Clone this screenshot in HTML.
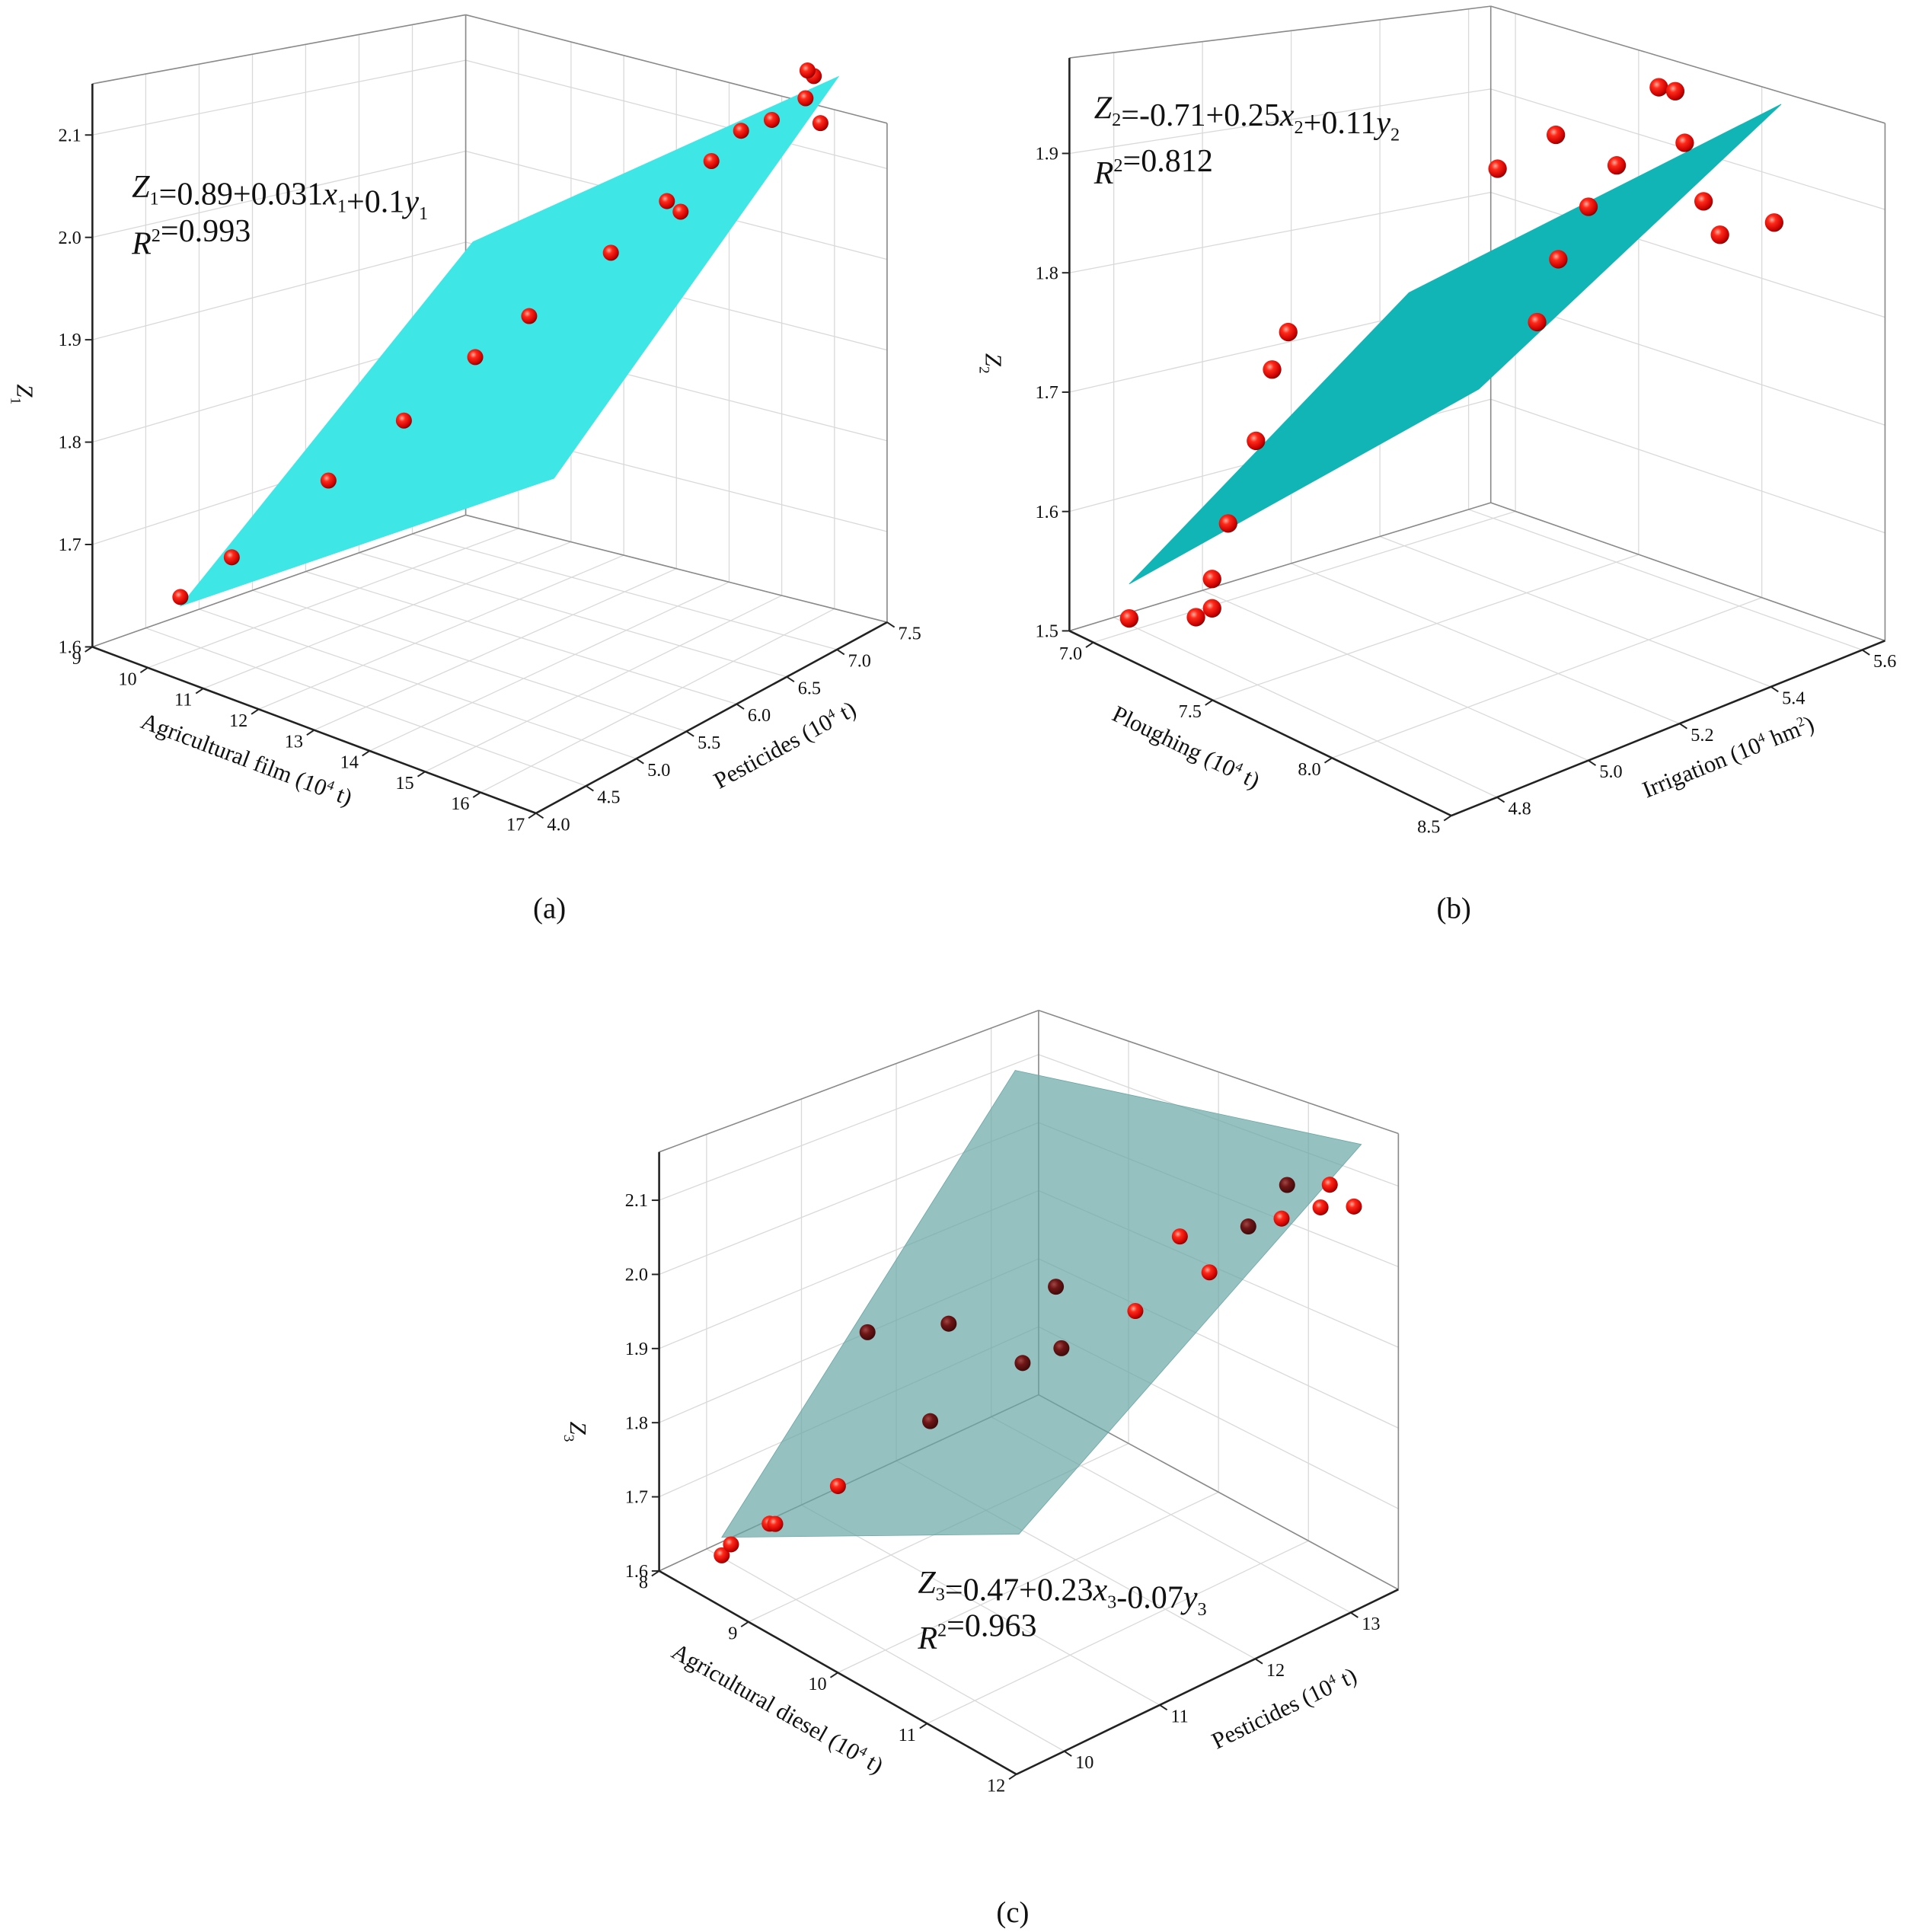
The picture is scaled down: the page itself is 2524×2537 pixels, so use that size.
<!DOCTYPE html>
<html><head><meta charset="utf-8"><style>
html,body{margin:0;padding:0;background:#fff}
svg{display:block}
text{font-family:"Liberation Serif",serif;fill:#111}
</style></head><body>
<svg id="fig" xmlns="http://www.w3.org/2000/svg" width="2524" height="2537" viewBox="0 0 1560 1568">
<defs>
<radialGradient id="ball" cx="0.38" cy="0.35" r="0.7"><stop offset="0" stop-color="#ffb0a0"/><stop offset="0.3" stop-color="#ff2a1a"/><stop offset="0.8" stop-color="#c80000"/><stop offset="1" stop-color="#700000"/></radialGradient>
<radialGradient id="ballDark" cx="0.38" cy="0.35" r="0.7"><stop offset="0" stop-color="#a04848"/><stop offset="0.4" stop-color="#6e1616"/><stop offset="1" stop-color="#3a0808"/></radialGradient>
</defs>
<g id="panel-a"></g>
<g id="panel-b"></g>
<g id="panel-c"></g>
<text x="446" y="745" font-size="24" text-anchor="middle">(a)</text>
<text x="1180" y="745" font-size="24" text-anchor="middle">(b)</text>
<text x="822" y="1560" font-size="24" text-anchor="middle">(c)</text>
</svg>
<script>
// ---- Panel (a) data ----
const aXTicks=[9,10,11,12,13,14,15,16,17];
const aYTicks=[4.0,4.5,5.0,5.5,6.0,6.5,7.0,7.5];
const aZTicks=[1.6,1.7,1.8,1.9,2.0,2.1];
const aX=[9.86,10.37,11.33,12.08,12.80,13.34,14.17,14.74,14.88,15.19,15.50,15.81,16.16,16.24,16.18,16.31];
const aY=[4.38,4.60,5.02,5.35,5.66,5.90,6.26,6.51,6.57,6.71,6.84,6.98,7.13,7.17,7.14,7.20];
const aZ=[1.652,1.693,1.772,1.834,1.900,1.943,2.010,2.065,2.054,2.108,2.141,2.153,2.177,2.201,2.207,2.150];
const aPlaneX=[9.86,12.78,16.5,13.59];
const aPlaneY=[4.38,5.65,7.28,6.01];
const aPlaneZ=[1.643,2.018,2.201,1.775];
// ---- Panel (b) data ----
const bXTicks=[7.0,7.5,8.0,8.5];
const bYTicks=[4.8,5.0,5.2,5.4,5.6];
const bZTicks=[1.5,1.6,1.7,1.8,1.9];
const bX=[7.02,7.15,7.18,7.18,7.21,7.27,7.30,7.33,7.75,7.86,7.92,7.98,7.87,7.82,8.06,8.09,8.11,8.15,8.18,8.29];
const bY=[4.77,4.85,4.87,4.87,4.89,4.92,4.94,4.96,5.20,5.27,5.31,5.34,5.27,5.25,5.39,5.41,5.42,5.44,5.46,5.52];
const bZ=[1.514,1.518,1.526,1.551,1.599,1.672,1.734,1.767,1.924,1.957,1.894,1.933,1.847,1.789,2.005,2.002,1.956,1.904,1.874,1.887];
const bPlaneX=[7.02,7.57,8.30,7.71];
const bPlaneY=[4.77,5.10,5.53,5.18];
const bPlaneZ=[1.543,1.809,1.995,1.728];
// ---- Panel (c) data ----
const cXTicks=[8,9,10,11,12];
const cYTicks=[10,11,12,13];
const cZTicks=[1.6,1.7,1.8,1.9,2.0,2.1];
const cX=[8.34,8.39,8.60,8.63,8.97,9.47,9.13,9.57,9.97,10.15,10.18,10.58,10.82,10.98,11.19,11.37,11.40,11.58,11.63,11.76];
const cY=[9.84,9.89,10.10,10.13,10.47,10.97,10.63,11.07,11.47,11.65,11.68,12.08,12.32,12.48,12.69,12.87,12.90,13.08,13.13,13.26];
const cZ=[1.624,1.639,1.668,1.668,1.720,1.807,1.923,1.934,1.883,1.981,1.902,1.949,2.043,1.997,2.054,2.063,2.105,2.076,2.104,2.076];
const cOcc=[0,0,0,0,0,1,1,1,1,1,1,0,0,0,1,0,1,0,0,0];
const cPlaneX=[8.34,9.93,11.8,9.95];
const cPlaneY=[9.84,11.43,13.3,11.45];
const cPlaneZ=[1.648,2.261,2.153,1.662];

const NS='http://www.w3.org/2000/svg';
function mk(parent,tag,attrs){const e=document.createElementNS(NS,tag);for(const k in attrs)e.setAttribute(k,attrs[k]);parent.appendChild(e);return e;}
function makeProj(c){
  return function(x,y,z){
    const u=(x-c.xr[0])/(c.xr[1]-c.xr[0]),v=(y-c.yr[0])/(c.yr[1]-c.yr[0]),t=(z-c.zr[0])/(c.zr[1]-c.zr[0]);
    const w=[(1-u)*(1-v),u*(1-v),u*v,(1-u)*v];
    const f=[c.fl.L,c.fl.F,c.fl.R,c.fl.B],tp=[c.tp.L,c.tp.F,c.tp.R,c.tp.B];
    let fx=0,fy=0,tx=0,ty=0;
    for(let i=0;i<4;i++){fx+=w[i]*f[i][0];fy+=w[i]*f[i][1];tx+=w[i]*tp[i][0];ty+=w[i]*tp[i][1];}
    return [fx+t*(tx-fx),fy+t*(ty-fy)];
  };
}
function seg(g,P,a,b,stroke,sw,name){
  const pts=[];for(let i=0;i<=8;i++){const s=i/8;const p=P(a[0]+(b[0]-a[0])*s,a[1]+(b[1]-a[1])*s,a[2]+(b[2]-a[2])*s);pts.push(p[0].toFixed(1)+','+p[1].toFixed(1));}
  const e=mk(g,'polyline',{points:pts.join(' '),fill:'none',stroke:stroke,'stroke-width':sw});
  
  
  return e;
}
function fmt(v,d){return d?v.toFixed(1):String(v);}
function drawPanel(id,c,d){
  const g=document.getElementById(id),P=makeProj(c);
  const [x0,x1]=c.xr,[y0,y1]=c.yr,[z0,z1]=c.zr;
  const grid='#d9d9d9';
  d.xt.forEach(xt=>seg(g,P,[xt,y0,z0],[xt,y1,z0],grid,0.8,'floor-grid-x'));
  d.yt.forEach(yt=>seg(g,P,[x0,yt,z0],[x1,yt,z0],grid,0.8,'floor-grid-y'));
  d.yt.forEach(yt=>seg(g,P,[x0,yt,z0],[x0,yt,z1],grid,0.8,'left-wall-grid-y'));
  d.zt.forEach(zt=>seg(g,P,[x0,y0,zt],[x0,y1,zt],grid,0.8,'left-wall-grid-z'));
  d.xt.forEach(xt=>seg(g,P,[xt,y1,z0],[xt,y1,z1],grid,0.8,'right-wall-grid-x'));
  d.zt.forEach(zt=>seg(g,P,[x0,y1,zt],[x1,y1,zt],grid,0.8,'right-wall-grid-z'));
  const bx='#8a8a8a';
  seg(g,P,[x0,y1,z0],[x0,y1,z1],bx,1,'back-edge');
  seg(g,P,[x1,y1,z0],[x1,y1,z1],bx,1,'right-edge');
  seg(g,P,[x0,y0,z1],[x0,y1,z1],bx,1,'left-top-edge');
  seg(g,P,[x0,y1,z1],[x1,y1,z1],bx,1,'right-top-edge');
  seg(g,P,[x0,y0,z0],[x0,y1,z0],bx,1,'floor-left-edge');
  seg(g,P,[x0,y1,z0],[x1,y1,z0],bx,1,'floor-back-edge');
  seg(g,P,[x0,y0,z0],[x1,y0,z0],'#222',1.6,'x-axis-line');
  seg(g,P,[x1,y0,z0],[x1,y1,z0],'#222',1.6,'y-axis-line');
  seg(g,P,[x0,y0,z0],[x0,y0,z1],'#222',1.6,'z-axis-line');
  d.zt.forEach(zt=>{const p=P(x0,y0,zt);
    const l=mk(g,'line',{x1:p[0]-6,y1:p[1],x2:p[0],y2:p[1],stroke:'#222','stroke-width':1.2});
    
    const t=mk(g,'text',{x:p[0]-9,y:p[1]+5,'font-size':15,'text-anchor':'end'});t.textContent=zt.toFixed(1);
    });
  d.xt.forEach(xt=>{const p=P(xt,y0,z0);
    const l=mk(g,'line',{x1:p[0],y1:p[1],x2:p[0]-6,y2:p[1]+4,stroke:'#222','stroke-width':1.2});
    
    const t=mk(g,'text',{x:p[0]-9,y:p[1]+14,'font-size':15,'text-anchor':'end'});t.textContent=fmt(xt,d.xdec);
    });
  d.yt.forEach(yt=>{const p=P(x1,yt,z0);
    const l=mk(g,'line',{x1:p[0],y1:p[1],x2:p[0]+6,y2:p[1]+4,stroke:'#222','stroke-width':1.2});
    
    const t=mk(g,'text',{x:p[0]+9,y:p[1]+14,'font-size':15,'text-anchor':'start'});t.textContent=fmt(yt,d.ydec);
    });
  const drawPts=(filter,dark)=>{d.X.forEach((xv,i)=>{if(!filter(i))return;const p=P(xv,d.Y[i],d.Z[i]);
    const e=mk(g,'circle',{cx:p[0].toFixed(1),cy:p[1].toFixed(1),r:c.r,fill:dark?'url(#ballDark)':'url(#ball)'});
    });};
  const pp=d.PX.map((xv,i)=>P(xv,d.PY[i],d.PZ[i]).map(v=>v.toFixed(1)).join(',')).join(' ');
  const pl=mk(g,'polygon',{points:pp,fill:c.planeFill,'fill-opacity':c.planeOpacity,stroke:c.planeFill,'stroke-width':0.5});
  
  if(d.occ) drawPts(i=>d.occ[i]===1,true);
  drawPts(i=>!d.occ||d.occ[i]!==1,false);
}
drawPanel('panel-a',{xr:[9,17],yr:[4,7.5],zr:[1.6,2.15],fl:{L:[75,525],F:[435,660],R:[720,505],B:[378,418]},tp:{L:[75,68],F:[435,190],R:[720,100],B:[378,12]},r:6.5,planeFill:'#3ee6e6',planeOpacity:1},
  {xt:aXTicks,yt:aYTicks,zt:aZTicks,xdec:false,ydec:true,X:aX,Y:aY,Z:aZ,PX:aPlaneX,PY:aPlaneY,PZ:aPlaneZ});
drawPanel('panel-b',{xr:[6.9,8.5],yr:[4.7,5.65],zr:[1.5,1.98],fl:{L:[868,512],F:[1178,662],R:[1530,520],B:[1210,408]},tp:{L:[868,47],F:[1178,182],R:[1530,100],B:[1210,5]},r:7.5,planeFill:'#11b5b5',planeOpacity:1},
  {xt:bXTicks,yt:bYTicks,zt:bZTicks,xdec:true,ydec:true,X:bX,Y:bY,Z:bZ,PX:bPlaneX,PY:bPlaneY,PZ:bPlaneZ});
drawPanel('panel-c',{xr:[8,12],yr:[9.5,13.5],zr:[1.6,2.165],fl:{L:[535,1275],F:[825,1440],R:[1135,1290],B:[843,1132]},tp:{L:[535,935],F:[825,1040],R:[1135,920],B:[843,820]},r:6.5,planeFill:'#6aa6a6',planeOpacity:0.7},
  {xt:cXTicks,yt:cYTicks,zt:cZTicks,xdec:false,ydec:false,X:cX,Y:cY,Z:cZ,occ:cOcc,PX:cPlaneX,PY:cPlaneY,PZ:cPlaneZ});
</script>
<script>
(function(){
const svg=document.getElementById('fig');
function T(x,y,rot,size,html,name){const t=document.createElementNS('http://www.w3.org/2000/svg','text');
t.setAttribute('x',x);t.setAttribute('y',y);t.setAttribute('font-size',size);t.setAttribute('text-anchor','middle');
if(rot)t.setAttribute('transform','rotate('+rot+' '+x+' '+y+')');t.innerHTML=html;


svg.appendChild(t);}
const sub=s=>'<tspan font-size="15" dy="6">'+s+'</tspan><tspan dy="-6"></tspan>';
const sup=s=>'<tspan font-size="15" dy="-10">'+s+'</tspan><tspan dy="10"></tspan>';
const p4='<tspan font-size="11" dy="-7">4</tspan><tspan dy="7"> ';
T(198,622,20.6,19,'Agricultural film (10'+p4+'t)</tspan>','x-axis-title-a');
T(640,610,-28.5,19,'Pesticides (10'+p4+'t)</tspan>','y-axis-title-a');
T(14,320,90,19,'<tspan font-style="italic">Z</tspan><tspan font-size="12" dy="5">1</tspan>','z-axis-title-a');
T(960,612,25.8,19,'Ploughing (10'+p4+'t)</tspan>','x-axis-title-b');
T(1405,620,-22,19,'Irrigation (10'+p4+'hm</tspan><tspan font-size="11" dy="-7">2</tspan><tspan dy="7">)</tspan>','y-axis-title-b');
T(800,295,90,19,'<tspan font-style="italic">Z</tspan><tspan font-size="12" dy="5">2</tspan>','z-axis-title-b');
T(628,1392,29.6,19,'Agricultural diesel (10'+p4+'t)</tspan>','x-axis-title-c');
T(1045,1392,-25.8,19,'Pesticides (10'+p4+'t)</tspan>','y-axis-title-c');
T(463,1162,90,19,'<tspan font-style="italic">Z</tspan><tspan font-size="12" dy="5">3</tspan>','z-axis-title-c');
function L(x,y,html,name){const t=document.createElementNS('http://www.w3.org/2000/svg','text');
t.setAttribute('x',x);t.setAttribute('y',y);t.setAttribute('font-size',26);t.innerHTML=html;


svg.appendChild(t);}
const I=s=>'<tspan font-style="italic">'+s+'</tspan>';
L(107,160,I('Z')+sub('1')+'=0.89+0.031'+I('x')+sub('1')+'+0.1'+I('y')+sub('1'),'equation-a');
L(107,206,I('R')+sup('2')+'=0.993','r-squared-a');
L(888,96,I('Z')+sub('2')+'=-0.71+0.25'+I('x')+sub('2')+'+0.11'+I('y')+sub('2'),'equation-b');
L(888,149,I('R')+sup('2')+'=0.812','r-squared-b');
L(745,1293,I('Z')+sub('3')+'=0.47+0.23'+I('x')+sub('3')+'-0.07'+I('y')+sub('3'),'equation-c');
L(745,1338,I('R')+sup('2')+'=0.963','r-squared-c');
})();
</script>
</body></html>
